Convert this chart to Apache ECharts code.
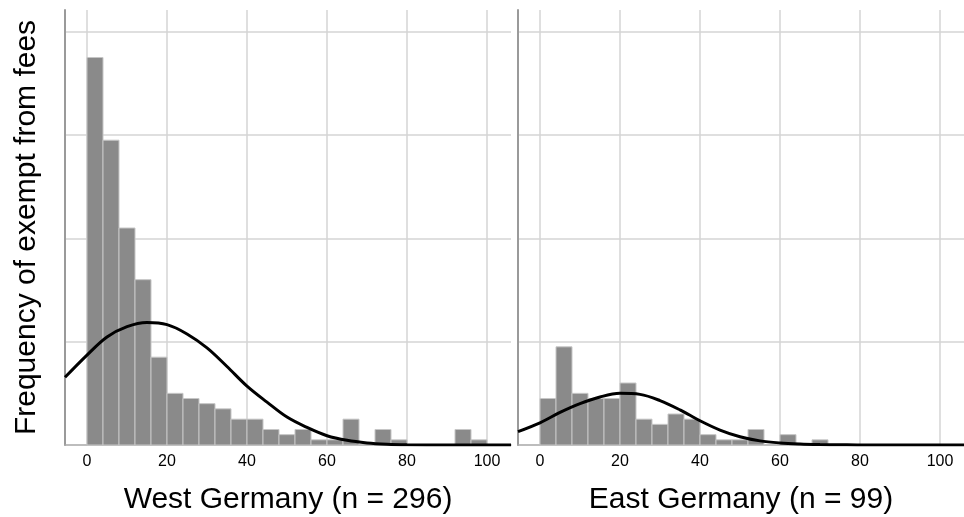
<!DOCTYPE html>
<html><head><meta charset="utf-8">
<script src="https://cdn.jsdelivr.net/npm/echarts@6/dist/echarts.min.js"></script>
<style>html,body{margin:0;padding:0;background:#fff}#c{width:964px;height:517px}</style>
</head><body><div id="c"></div>
<script>
// Histogram bins (start of each 4-unit bin)
const binStarts = [0,4,8,12,16,20,24,28,32,36,40,44,48,52,56,60,64,68,72,76,80,84,88,92,96];
const binWidth = 4;
const westCounts = [75,59,42,32,17,10,9,8,7,5,5,3,2,3,1,1,5,0,3,1,0,0,0,3,1];
const eastCounts = [9,19,10,9,9,12,5,4,6,5,2,1,1,3,0,2,0,1,0,0,0,0,0,0,0];
// Normal curve points
const curveX    = [-5.5,0,5,10,15,20,25,30,35,40,45,50,55,60,65,70,75,80,90,100,106];
const westCurve = [13.1,17.4,20.9,22.9,23.7,23.3,21.5,18.8,15.2,11.4,8.3,5.4,3.4,1.8,0.9,0.4,0.15,0.05,0,0,0];
const eastCurve = [2.6,4.3,6.3,8.0,9.3,10.0,9.8,8.6,6.8,4.7,2.9,1.6,0.8,0.4,0.2,0.1,0.05,0,0,0,0];
const xTitles = ['West Germany (n = 296)', 'East Germany (n = 99)'];
const yTitle = 'Frequency of exempt from fees';

const FONT = 'Liberation Sans, Arial, Helvetica, sans-serif';
const chart = echarts.init(document.getElementById('c'));

function barData(counts){
  return binStarts.map((s,i)=>[s, s+binWidth, counts[i]]).filter(d=>d[2]>0);
}
function renderBars(params, api){
  const x0 = api.value(0), x1 = api.value(1), c = api.value(2);
  const p0 = api.coord([x0, c]);
  const p1 = api.coord([x1, 0]);
  return {type:'rect', shape:{x:p0[0], y:p0[1], width:p1[0]-p0[0], height:p1[1]-p0[1]},
    style:{fill:'#8a8a8a', stroke:'#c6c6c6', lineWidth:1}};
}
function xAxis(i){
  return {
    type:'value', gridIndex:i, min:-5.5, max:106,
    name:xTitles[i], nameLocation:'middle', nameGap:40,
    nameTextStyle:{fontSize:30, color:'#000', fontFamily:FONT},
    axisLine:{show:true, onZero:false, lineStyle:{color:'#a8a8a8', width:1.5}},
    axisTick:{show:false},
    axisLabel:{fontSize:16, color:'#000', fontFamily:FONT, margin:9,
      formatter:v => (Math.abs(v % 20) < 1e-9 ? String(v) : '')},
    splitLine:{show:true, showMinLine:false, showMaxLine:false, lineStyle:{color:'#d4d4d4', width:1.5}}
  };
}
function yAxis(i){
  return {
    type:'value', gridIndex:i, min:0, max:84.2, interval:20,
    name: i===0 ? yTitle : '', nameLocation:'middle', nameGap:23,
    nameTextStyle:{fontSize:30, color:'#000', fontFamily:FONT},
    axisLine:{show:true, onZero:false, lineStyle:{color:'#9a9a9a', width:2}},
    axisTick:{show:false},
    axisLabel:{show:false},
    splitLine:{show:true, showMinLine:false, showMaxLine:false, lineStyle:{color:'#d4d4d4', width:1.5}}
  };
}
chart.setOption({
  animation:false,
  backgroundColor:'#fff',
  grid:[
    {left:65, top:10, width:446, height:435, containLabel:false, outerBoundsMode:'none'},
    {left:518, top:10, width:446, height:435, containLabel:false, outerBoundsMode:'none'}
  ],
  xAxis:[xAxis(0), xAxis(1)],
  yAxis:[yAxis(0), yAxis(1)],
  series:[
    {type:'custom', xAxisIndex:0, yAxisIndex:0, renderItem:renderBars, data:barData(westCounts), encode:{x:[0,1], y:2}, z:2},
    {type:'custom', xAxisIndex:1, yAxisIndex:1, renderItem:renderBars, data:barData(eastCounts), encode:{x:[0,1], y:2}, z:2},
    {type:'line', xAxisIndex:0, yAxisIndex:0, data:curveX.map((x,i)=>[x, westCurve[i]]), smooth:0.35,
      showSymbol:false, symbol:'none', lineStyle:{color:'#000', width:3}, z:3},
    {type:'line', xAxisIndex:1, yAxisIndex:1, data:curveX.map((x,i)=>[x, eastCurve[i]]), smooth:0.35,
      showSymbol:false, symbol:'none', lineStyle:{color:'#000', width:3}, z:3}
  ]
});
</script></body></html>
